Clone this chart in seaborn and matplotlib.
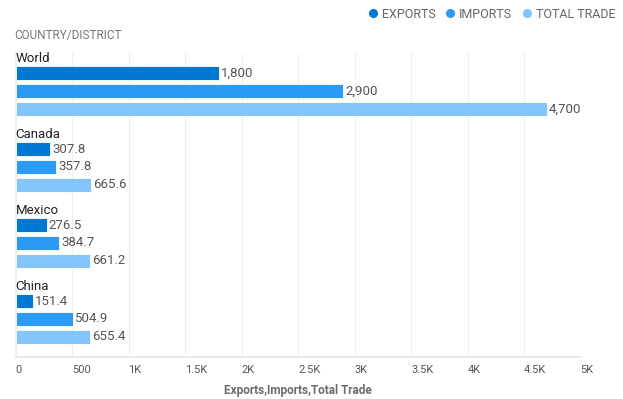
import pandas as pd
import seaborn as sns
import matplotlib.pyplot as plt
from matplotlib.lines import Line2D
from matplotlib.ticker import FuncFormatter

countries = ["World", "Canada", "Mexico", "China"]
exports = [1800, 307.8, 276.5, 151.4]
imports = [2900, 357.8, 384.7, 504.9]
total_trade = [4700, 665.6, 661.2, 655.4]
series = ["EXPORTS", "IMPORTS", "TOTAL TRADE"]
colors = ["#0078D4", "#2B9AF3", "#83C5FC"]
x_ticks = [0, 500, 1000, 1500, 2000, 2500, 3000, 3500, 4000, 4500, 5000]


def main():
    # long table for seaborn
    rows = []
    for name, values in zip(series, [exports, imports, total_trade]):
        for c, v in zip(countries, values):
            rows.append({"country": c, "series": name, "value": v})
    df = pd.DataFrame(rows)

    sns.set_theme(style="white")
    plt.rcParams["font.family"] = ["Roboto", "DejaVu Sans"]

    fig = plt.figure(figsize=(6.23, 3.99), dpi=100)
    ax = fig.add_axes([15.5 / 623, 1 - 357 / 399, 565 / 623, 304 / 399])

    sns.barplot(data=df, y="country", x="value", hue="series", order=countries,
                hue_order=series, palette=colors, saturation=1, width=0.71, gap=0.27,
                orient="h", edgecolor="white", linewidth=0.6, legend=False, ax=ax)

    # value labels at bar ends
    for container in ax.containers:
        labels = []
        for bar in container:
            v = bar.get_width()
            labels.append(f"{v:,.0f}" if v >= 1000 else f"{v:.1f}")
        ax.bar_label(container, labels=labels, padding=1.5, fontsize=9.5, color="#555555")

    # country names above each group
    for i, c in enumerate(countries):
        ax.text(0, i - 0.43, c, ha="left", va="center", fontsize=9.5, color="#222222")

    ax.set_xlim(0, 5000)
    ax.set_ylim(3.5, -0.5)
    ax.set_xticks(x_ticks)
    ax.xaxis.set_major_formatter(FuncFormatter(
        lambda v, p: "0" if v == 0 else (f"{v / 1000:g}K" if v >= 1000 else f"{v:g}")))
    for lab in ax.get_xticklabels():
        lab.set_horizontalalignment("left")
    ax.tick_params(axis="x", length=0, pad=6, labelsize=8, labelcolor="#555555")
    ax.set_yticks([])
    ax.set_ylabel("")
    ax.set_xlabel("Exports,Imports,Total Trade", fontsize=8.5, fontweight="bold",
                  color="#6b6b6b", labelpad=6)
    ax.grid(axis="x", color="#eeeeee", linewidth=0.8)
    ax.set_axisbelow(True)
    for s in ["top", "right"]:
        ax.spines[s].set_visible(False)
    ax.spines["left"].set_color("#eeeeee")
    ax.spines["bottom"].set_color("#e6e6e6")

    fig.text(14 / 623, 1 - 35 / 399, "COUNTRY/DISTRICT", fontsize=8.5, color="#777777",
             va="center")

    handles = [Line2D([], [], marker="o", linestyle="", color=c, markersize=5.5)
               for c in colors]
    fig.legend(handles, series, loc="center right", bbox_to_anchor=(1.0, 1 - 14 / 399),
               ncol=3, frameon=False, fontsize=9, labelcolor="#666666",
               handlelength=0.6, handletextpad=0.4, columnspacing=0.9, borderaxespad=0.2)

    fig.savefig("out.png", dpi=100)


main()
